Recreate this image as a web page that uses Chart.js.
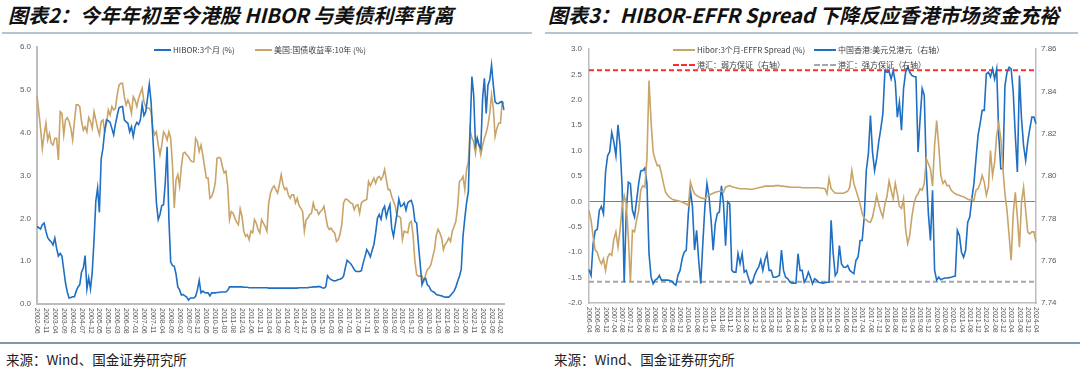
<!DOCTYPE html>
<html lang="zh">
<head>
<meta charset="utf-8">
<title>HIBOR 与美债利率 / HIBOR-EFFR Spread</title>
<script src="https://cdn.jsdelivr.net/npm/chart.js@4.4.1/dist/chart.umd.min.js"></script>
<style>
body { margin:0; width:1080px; height:378px; background:#fff; position:relative; overflow:hidden; font-family:"Noto Sans CJK SC", sans-serif; }
.title { position:absolute; top:2px; font-size:20px; font-weight:700; font-style:italic; color:#111; line-height:26px; white-space:nowrap; }
.rule { position:absolute; top:32px; height:2px; background:#b3c5d3; }
.foot-rule { position:absolute; top:342px; left:0; width:1080px; height:2px; background:#7d98ab; }
.chart { position:absolute; top:36px; }
.leg { position:absolute; font-size:8px; color:#404040; white-space:nowrap; line-height:10px; display:flex; align-items:center; }
.leg i { display:inline-block; width:17px; height:0; border-top:2px solid; margin-right:2px; }
.src { position:absolute; top:349px; font-size:13.5px; color:#222; white-space:nowrap; }
</style>
</head>
<body>

<div class="title" style="left:8px">图表2：今年年初至今港股 HIBOR 与美债利率背离</div>
<div class="title" style="left:548px">图表3：HIBOR-EFFR Spread 下降反应香港市场资金充裕</div>
<div class="rule" style="left:2px;width:530px"></div>
<div class="rule" style="left:545px;width:533px"></div>

<canvas id="leftChart" class="chart" style="left:0" width="540" height="304"></canvas>
<canvas id="rightChart" class="chart" style="left:540px" width="540" height="304"></canvas>

<div class="leg" style="left:154px;top:45px"><i style="border-color:#1f6fc2"></i>HIBOR:3个月 (%)</div>
<div class="leg" style="left:255px;top:45px"><i style="border-color:#c9a468"></i>美国:国债收益率:10年 (%)</div>

<div class="leg" style="left:673px;top:45px"><i style="border-color:#c9a468;width:22px"></i>Hibor:3个月-EFFR Spread (%)</div>
<div class="leg" style="left:814px;top:45px"><i style="border-color:#1f6fc2;width:22px"></i>中国香港:美元兑港元（右轴）</div>
<div class="leg" style="left:673px;top:60px"><i style="border-color:#ff2e2e;border-top-style:dashed;width:22px"></i>港汇：弱方保证（右轴）</div>
<div class="leg" style="left:814px;top:60px"><i style="border-color:#a6a6a6;border-top-style:dashed;width:22px"></i>港汇：强方保证（右轴）</div>

<div class="foot-rule"></div>
<div class="src" style="left:6px">来源：Wind、国金证券研究所</div>
<div class="src" style="left:554px">来源：Wind、国金证券研究所</div>

<script>
// ---- left chart: monthly, from 2002-06 ----
const hibor3m = [
  1.81, 1.78, 1.75, 1.85, 1.89, 1.70, 1.55, 1.49, 1.45, 1.38,
  1.54, 1.30, 1.12, 1.18, 1.12, 0.80, 0.49, 0.28, 0.14, 0.15,
  0.17, 0.17, 0.30, 0.40, 0.45, 0.75, 0.84, 1.13, 0.35, 0.61,
  0.35, 0.75, 1.50, 2.40, 2.71, 2.14, 3.39, 3.63, 4.06, 4.30,
  4.28, 4.24, 4.10, 3.95, 4.20, 4.40, 4.58, 4.60, 4.61, 4.30,
  4.25, 4.22, 4.02, 4.14, 3.91, 4.15, 4.24, 4.19, 4.30, 4.66,
  4.40, 4.49, 4.80, 5.13, 4.72, 3.90, 3.14, 2.36, 1.97, 2.09,
  2.30, 2.32, 2.86, 3.67, 1.97, 0.98, 0.90, 0.88, 0.70, 0.40,
  0.33, 0.21, 0.22, 0.19, 0.16, 0.09, 0.14, 0.14, 0.14, 0.18,
  0.33, 0.55, 0.26, 0.30, 0.27, 0.26, 0.26, 0.19, 0.26, 0.26,
  0.26, 0.27, 0.27, 0.28, 0.28, 0.28, 0.28, 0.32, 0.40, 0.40,
  0.40, 0.40, 0.40, 0.40, 0.40, 0.40, 0.39, 0.39, 0.39, 0.38,
  0.38, 0.38, 0.38, 0.38, 0.38, 0.38, 0.38, 0.38, 0.38, 0.38,
  0.37, 0.37, 0.37, 0.37, 0.37, 0.37, 0.37, 0.37, 0.37, 0.37,
  0.37, 0.37, 0.37, 0.37, 0.37, 0.37, 0.37, 0.38, 0.38, 0.38,
  0.38, 0.38, 0.38, 0.39, 0.39, 0.40, 0.40, 0.40, 0.41, 0.40,
  0.38, 0.37, 0.40, 0.66, 0.60, 0.57, 0.55, 0.54, 0.55, 0.57,
  0.58, 0.60, 0.65, 0.85, 1.02, 0.98, 0.94, 0.88, 0.80, 0.76,
  0.76, 0.76, 0.78, 0.96, 1.10, 1.27, 1.20, 1.10, 1.25, 1.39,
  1.66, 2.00, 2.09, 1.98, 2.20, 2.28, 2.03, 2.20, 2.32, 1.77,
  1.58, 1.85, 2.12, 2.45, 2.28, 2.30, 2.36, 2.19, 2.36, 2.40,
  2.42, 2.28, 1.93, 1.89, 1.39, 0.92, 0.45, 0.57, 0.60, 0.45,
  0.41, 0.32, 0.29, 0.27, 0.22, 0.21, 0.20, 0.19, 0.17, 0.16,
  0.16, 0.16, 0.20, 0.25, 0.30, 0.40, 0.53, 0.65, 0.80, 1.58,
  2.00, 2.36, 2.63, 4.10, 5.31, 4.88, 3.71, 3.87, 3.71, 3.63,
  4.80, 5.27, 4.45, 5.11, 5.23, 5.58, 5.11, 4.72, 4.68, 4.68,
  4.72, 4.72, 4.53
];
const us10y = [
  4.86, 4.49, 4.10, 3.63, 3.95, 4.22, 3.83, 3.98, 3.75, 3.71,
  3.87, 3.87, 3.36, 4.49, 4.45, 3.95, 4.30, 4.35, 4.26, 4.10,
  3.83, 4.26, 4.65, 4.65, 4.61, 4.26, 4.06, 4.14, 4.02, 4.35,
  4.26, 4.10, 4.49, 4.30, 4.10, 3.95, 4.26, 4.30, 4.02, 4.22,
  4.53, 4.41, 4.61, 4.53, 4.57, 4.88, 5.11, 5.15, 5.15, 4.84,
  4.65, 4.76, 4.65, 4.45, 4.84, 4.76, 4.61, 4.80, 4.92, 5.04,
  4.72, 4.61, 4.57, 4.57, 4.49, 4.10, 3.95, 4.02, 3.71, 3.48,
  3.71, 4.02, 3.95, 3.83, 4.02, 3.87, 3.25, 2.24, 2.90, 3.02,
  2.75, 3.20, 3.52, 3.54, 3.48, 3.44, 3.36, 3.32, 3.32, 3.87,
  3.79, 3.56, 3.71, 3.48, 3.21, 2.94, 2.94, 2.47, 2.51, 2.63,
  2.82, 3.40, 3.42, 3.40, 3.21, 3.06, 3.10, 2.75, 1.97, 2.16,
  2.12, 2.01, 1.91, 1.85, 2.22, 2.05, 1.70, 1.58, 1.62, 1.50,
  1.70, 1.66, 1.97, 1.89, 1.74, 1.66, 1.97, 1.89, 1.81, 1.70,
  2.36, 2.59, 2.70, 2.76, 2.67, 2.59, 2.79, 3.02, 2.79, 2.67,
  2.71, 2.55, 2.47, 2.55, 2.55, 2.36, 2.47, 2.30, 2.24, 2.16,
  1.70, 1.97, 2.01, 2.09, 2.12, 2.36, 2.20, 2.20, 2.09, 2.16,
  2.20, 2.28, 2.05, 1.81, 1.74, 1.77, 1.70, 1.66, 1.46, 1.50,
  1.62, 1.85, 2.36, 2.45, 2.44, 2.40, 2.36, 2.34, 2.20, 2.30,
  2.32, 2.12, 2.36, 2.40, 2.42, 2.44, 2.86, 2.76, 2.85, 2.94,
  2.82, 2.95, 2.98, 2.90, 2.98, 3.14, 2.90, 2.67, 2.67, 2.51,
  2.40, 2.28, 2.05, 2.05, 2.01, 1.50, 1.70, 1.68, 1.66, 1.89,
  1.93, 1.60, 1.00, 0.68, 0.65, 0.65, 0.65, 0.53, 0.68, 0.80,
  0.84, 0.92, 1.10, 1.27, 1.60, 1.74, 1.66, 1.54, 1.27, 1.39,
  1.45, 1.54, 1.46, 1.70, 1.81, 1.93, 2.28, 2.86, 2.90, 2.98,
  2.67, 3.14, 3.32, 4.06, 3.87, 3.79, 3.52, 3.87, 3.71, 3.48,
  3.71, 3.87, 4.00, 4.18, 4.45, 4.88, 4.57, 3.91, 4.10, 4.22,
  4.22, 4.72, 4.68
];
const leftTicks = ['2002-06','2002-11','2003-04','2003-09','2004-02','2004-07','2004-12','2005-05','2005-10',
  '2006-03','2006-08','2007-01','2007-06','2007-11','2008-04','2008-09','2009-02','2009-07','2009-12',
  '2010-05','2010-10','2011-03','2011-08','2012-01','2012-06','2012-11','2013-04','2013-09','2014-02',
  '2014-07','2014-12','2015-05','2015-10','2016-03','2016-08','2017-01','2017-06','2017-11','2018-04',
  '2018-09','2019-02','2019-07','2019-12','2020-05','2020-10','2021-03','2021-08','2022-01','2022-06',
  '2022-11','2023-04','2023-09','2024-02'];

// ---- right chart: monthly, from 2006-04 ----
const spread = [
  -0.18, -0.37, -0.70, -0.96, -1.00, -1.15, -1.23, -1.13, -1.36, -1.10,
  -1.03, -1.06, -0.75, -0.60, -0.90, -0.57, -0.11, 0.12, -0.05, -0.70,
  -1.59, -0.57, -0.60, -0.37, -0.18, 0.22, 0.31, 0.28, 0.85, 2.38,
  1.56, 0.97, 0.82, 0.70, 0.71, 0.55, 0.35, 0.18, 0.12, 0.08,
  0.05, 0.03, 0.02, 0.01, 0.00, -0.01, -0.03, -0.05, -0.08, 0.38,
  0.25, 0.15, 0.12, 0.09, 0.07, 0.06, 0.05, 0.10, 0.12, 0.14,
  0.16, 0.18, 0.19, 0.20, 0.20, 0.18, 0.28, 0.30, 0.31, 0.29,
  0.28, 0.27, 0.26, 0.25, 0.25, 0.25, 0.25, 0.24, 0.24, 0.24,
  0.25, 0.26, 0.27, 0.28, 0.29, 0.30, 0.30, 0.30, 0.30, 0.30,
  0.31, 0.31, 0.31, 0.30, 0.30, 0.29, 0.29, 0.28, 0.28, 0.28,
  0.28, 0.28, 0.28, 0.27, 0.27, 0.27, 0.27, 0.27, 0.27, 0.27,
  0.27, 0.27, 0.26, 0.26, 0.25, 0.15, 0.45, 0.25, 0.20, 0.16,
  0.16, 0.16, 0.16, 0.16, 0.18, 0.20, 0.28, 0.61, 0.35, 0.22,
  0.09, -0.05, -0.24, -0.33, -0.37, -0.40, -0.41, -0.31, -0.11, 0.12,
  -0.05, -0.20, -0.31, -0.05, 0.10, 0.40, 0.22, 0.05, 0.36, 0.15,
  -0.10, -0.14, 0.05, -0.55, -0.83, -0.67, -0.31, -0.05, 0.09, 0.15,
  0.25, 0.22, 0.35, 0.84, 0.74, 0.64, 0.30, 1.10, 1.59, 1.10,
  0.51, 0.35, 0.41, 0.31, 0.31, 0.22, 0.18, 0.15, 0.13, 0.12,
  0.10, 0.09, 0.07, 0.04, 0.03, 0.05, 0.02, 0.22, 0.25, 0.35,
  0.51, 0.38, 0.12, 0.28, 1.00, 0.51, 0.77, 1.30, 1.53, 1.23,
  0.64, 0.15, -0.18, -0.67, -1.16, -0.24, 0.18, -0.31, -0.90, -0.01,
  0.28, -0.18, -0.60, -0.64, -0.60, -0.60, -0.80
];
const usdhkd = [
  7.7558, 7.7530, 7.7681, 7.7741, 7.7748, 7.7837, 7.7856, 7.7822, 7.8019, 7.8096,
  7.8115, 7.8206, 7.8161, 7.8096, 7.8242, 7.8144, 7.7952, 7.7498, 7.7832, 7.7971,
  7.7964, 7.7837, 7.7806, 7.7885, 7.7964, 7.8024, 7.8026, 7.8038, 7.7964, 7.7633,
  7.7522, 7.7491, 7.7508, 7.7515, 7.7530, 7.7508, 7.7508, 7.7508, 7.7508, 7.7506,
  7.7503, 7.7491, 7.7484, 7.7532, 7.7554, 7.7609, 7.7640, 7.7650, 7.7822, 7.7933,
  7.7854, 7.7650, 7.7743, 7.7602, 7.7491, 7.7681, 7.7854, 7.7964, 7.7902, 7.7791,
  7.7650, 7.7774, 7.7822, 7.7830, 7.7954, 7.7868, 7.7671, 7.7878, 7.7868, 7.7554,
  7.7546, 7.7546, 7.7633, 7.7585, 7.7633, 7.7546, 7.7554, 7.7520, 7.7491, 7.7498,
  7.7532, 7.7554, 7.7570, 7.7604, 7.7554, 7.7602, 7.7633, 7.7554, 7.7554, 7.7522,
  7.7522, 7.7525, 7.7530, 7.7650, 7.7554, 7.7522, 7.7515, 7.7501, 7.7494, 7.7494,
  7.7494, 7.7633, 7.7554, 7.7554, 7.7498, 7.7515, 7.7546, 7.7522, 7.7491, 7.7515,
  7.7508, 7.7498, 7.7496, 7.7494, 7.7496, 7.7498, 7.7498, 7.7791, 7.7633, 7.7530,
  7.7546, 7.7671, 7.7585, 7.7570, 7.7568, 7.7578, 7.7554, 7.7546, 7.7539, 7.7602,
  7.7616, 7.7695, 7.7695, 7.7806, 7.8026, 7.8106, 7.8286, 7.8113, 7.8026, 7.8082,
  7.8161, 7.8223, 7.8293, 7.8499, 7.8490, 7.8494, 7.8458, 7.8499, 7.8444, 7.8278,
  7.8348, 7.8216, 7.8413, 7.8490, 7.8514, 7.8490, 7.8475, 7.8470, 7.8468, 7.8113,
  7.8271, 7.8413, 7.8382, 7.8026, 7.7822, 7.7695, 7.7933, 7.7554, 7.7508, 7.7522,
  7.7510, 7.7515, 7.7518, 7.7518, 7.7520, 7.7522, 7.7525, 7.7527, 7.7743, 7.7719,
  7.7640, 7.7616, 7.7650, 7.7782, 7.7806, 7.7892, 7.7964, 7.8082, 7.8192, 7.8247,
  7.8310, 7.8310, 7.8482, 7.8490, 7.8468, 7.8506, 7.8458, 7.8506, 7.8192, 7.8034,
  7.8034, 7.8427, 7.8490, 7.8514, 7.8506, 7.8396, 7.8192, 7.8019, 7.8475, 7.8271,
  7.8144, 7.8074, 7.8161, 7.8223, 7.8278, 7.8278, 7.8247
];
const weakSide = 7.85;   // 弱方兑换保证
const strongSide = 7.75; // 强方兑换保证
const rightTicks = ['2006-04','2006-08','2006-12','2007-04','2007-08','2007-12','2008-04','2008-08','2008-12',
  '2009-04','2009-08','2009-12','2010-04','2010-08','2010-12','2011-04','2011-08','2011-12','2012-04',
  '2012-08','2012-12','2013-04','2013-08','2013-12','2014-04','2014-08','2014-12','2015-04','2015-08',
  '2015-12','2016-04','2016-08','2016-12','2017-04','2017-08','2017-12','2018-04','2018-08','2018-12',
  '2019-04','2019-08','2019-12','2020-04','2020-08','2020-12','2021-04','2021-08','2021-12','2022-04',
  '2022-08','2022-12','2023-04','2023-08','2023-12','2024-04'];

const BLUE = '#1f6fc2';
const GOLD = '#c9a468';
const AXIS = '#bdbdbd';
const TICK = '#595959';

// month keys "YYYY-MM" for the category axis
function monthRange(year, month, count) {
  const out = [];
  for (let i = 0; i < count; i++) {
    const t = month - 1 + i;
    out.push((year + Math.floor(t / 12)) + '-' + String(t % 12 + 1).padStart(2, '0'));
  }
  return out;
}
const leftMonths = monthRange(2002, 6, hibor3m.length);
const rightMonths = monthRange(2006, 4, spread.length);

// vertical date labels, reading top to bottom
const vTicks = {
  id: 'vTicks',
  afterDraw(chart, args, opts) {
    const sc = chart.scales.x;
    const ctx = chart.ctx;
    ctx.save();
    ctx.font = '7px "Liberation Sans"';
    ctx.fillStyle = TICK;
    ctx.textAlign = 'left';
    ctx.textBaseline = 'middle';
    chart.data.labels.forEach((lab, i) => {
      if (!opts.shown.includes(lab)) return;
      ctx.save();
      ctx.translate(sc.getPixelForValue(i), sc.top + 4);
      ctx.rotate(Math.PI / 2);
      ctx.fillText(lab, 0, 0);
      ctx.restore();
    });
    ctx.restore();
  }
};

const lineStyle = { pointRadius: 0, borderWidth: 1.6, tension: 0, fill: false };
const tickFont = { family: 'Liberation Sans', size: 8 };

new Chart(document.getElementById('leftChart'), {
  type: 'line',
  data: {
    labels: leftMonths,
    datasets: [
      { label: 'HIBOR:3个月 (%)', data: hibor3m, borderColor: BLUE, ...lineStyle },
      { label: '美国:国债收益率:10年 (%)', data: us10y, borderColor: GOLD, ...lineStyle }
    ]
  },
  options: {
    responsive: false,
    animation: false,
    events: [],
    layout: { padding: { top: 11, right: 36, left: 0, bottom: 0 } },
    plugins: { legend: { display: false }, tooltip: { enabled: false }, vTicks: { shown: leftTicks } },
    scales: {
      x: {
        grid: { display: false },
        border: { color: AXIS, width: 2 },
        ticks: { display: false },
        afterFit(s) { s.height = 36; }
      },
      y: {
        min: 0, max: 6,
        ticks: { stepSize: 1, color: TICK, font: tickFont, padding: 6, callback: v => v.toFixed(1) },
        grid: { display: false, drawTicks: false },
        border: { color: AXIS, width: 2 },
        afterFit(s) { s.width = 37; }
      }
    }
  },
  plugins: [vTicks]
});

new Chart(document.getElementById('rightChart'), {
  type: 'line',
  data: {
    labels: rightMonths,
    datasets: [
      { label: 'Hibor:3个月-EFFR Spread (%)', data: spread, borderColor: GOLD, yAxisID: 'y', ...lineStyle },
      { label: '中国香港:美元兑港元（右轴）', data: usdhkd, borderColor: BLUE, yAxisID: 'y1', ...lineStyle },
      { label: '港汇：弱方保证（右轴）', yAxisID: 'y1', borderColor: '#ff2e2e', borderDash: [5, 3], ...lineStyle, borderWidth: 2,
        data: [{ x: rightMonths[0], y: weakSide }, { x: rightMonths[rightMonths.length - 1], y: weakSide }] },
      { label: '港汇：强方保证（右轴）', yAxisID: 'y1', borderColor: '#a6a6a6', borderDash: [5, 3], ...lineStyle, borderWidth: 2,
        data: [{ x: rightMonths[0], y: strongSide }, { x: rightMonths[rightMonths.length - 1], y: strongSide }] }
    ]
  },
  options: {
    responsive: false,
    animation: false,
    events: [],
    layout: { padding: { top: 13, right: 0, left: 0, bottom: 0 } },
    plugins: { legend: { display: false }, tooltip: { enabled: false }, vTicks: { shown: rightTicks } },
    scales: {
      x: {
        grid: { display: false },
        border: { color: AXIS, width: 1.5 },
        ticks: { display: false },
        afterFit(s) { s.height = 37; }
      },
      y: {
        position: 'left',
        min: -2, max: 3,
        ticks: { stepSize: 0.5, color: TICK, font: tickFont, padding: 7, callback: v => v.toFixed(1) },
        grid: { drawTicks: false, color: c => (c.tick && Math.abs(c.tick.value) < 1e-9) ? '#7f7f7f' : 'rgba(0,0,0,0)', lineWidth: 1 },
        border: { color: AXIS, width: 1.5 },
        afterFit(s) { s.width = 49; }
      },
      y1: {
        position: 'right',
        min: 7.74, max: 7.86,
        ticks: { stepSize: 0.02, color: TICK, font: tickFont, padding: 5, callback: v => v.toFixed(2) },
        grid: { display: false, drawTicks: false },
        border: { color: AXIS, width: 1.5 },
        afterFit(s) { s.width = 44; }
      }
    }
  },
  plugins: [vTicks]
});
</script>
</body>
</html>
